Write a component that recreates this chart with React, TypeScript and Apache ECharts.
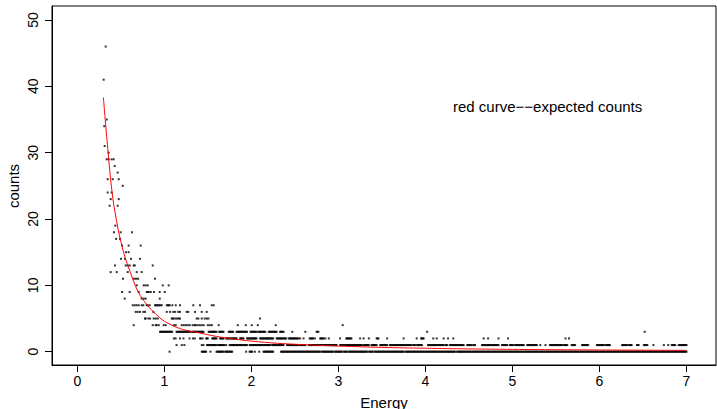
import React, { useEffect, useRef } from "react";
import * as echarts from "echarts";

const FONT = "'Liberation Sans', Arial, Helvetica, sans-serif";

const energyTicks = [0, 1, 2, 3, 4, 5, 6, 7];
const countTicks = [0, 10, 20, 30, 40, 50];

// isolated observations: [count, energies]
const sparsePoints: Array<[number, number[]]> = [
  [46, [0.326]],
  [41, [0.303]],
  [35, [0.338]],
  [34, [0.31]],
  [31, [0.315]],
  [30, [0.36]],
  [29, [0.338, 0.361, 0.395, 0.418]],
  [28, [0.43]],
  [27, [0.464]],
  [26, [0.349, 0.407, 0.476]],
  [25, [0.522]],
  [24, [0.349, 0.395]],
  [23, [0.384, 0.476]],
  [22, [0.372, 0.464]],
  [19, [0.437]],
  [18, [0.421, 0.498, 0.628]],
  [17, [0.446, 0.491]],
  [16, [0.514, 0.59, 0.729]],
  [15, [0.56, 0.59]],
  [14, [0.502, 0.548, 0.617, 0.721]],
  [13, [0.433, 0.556, 0.579, 0.602, 0.648, 0.66, 0.867]],
  [12, [0.384, 0.453, 0.579, 0.683, 0.74]],
  [11, [0.525, 0.652, 0.675, 0.698, 0.893]],
  [10, [0.683, 0.763, 0.786, 0.809, 0.982, 1.05]],
  [9, [0.514, 0.602, 0.706, 0.798, 0.809, 0.821, 0.844, 0.882, 0.947, 1.005]],
  [8, [0.545, 0.74, 0.763, 0.786, 0.947]],
  [7, [0.637, 0.66, 0.683, 0.706, 0.74, 0.759, 0.798, 0.809, 0.832, 0.893, 0.905, 0.917, 0.93, 0.942, 0.955, 0.97, 1.028, 1.04, 1.051, 1.062, 1.092, 1.131, 1.18, 1.333, 1.41, 1.545, 1.568]],
  [6, [0.671, 0.694, 0.72, 0.759, 0.778, 0.874, 1.028, 1.066, 1.103, 1.124, 1.16, 1.18, 1.257, 1.275, 1.353, 1.43, 1.487]],
  [5, [0.778, 0.786, 0.816, 0.836, 0.878, 0.901, 0.924, 1.085, 1.097, 1.108, 1.131, 1.15, 1.166, 1.18, 1.372, 1.391, 1.43, 1.464, 1.487, 1.506, 2.1]],
  [4, [0.648, 0.867, 0.901, 0.913, 0.936, 0.993, 1.016, 1.108, 1.131, 1.2, 1.223, 1.246, 1.269, 1.292, 1.326, 1.349, 1.36, 1.383, 1.406, 1.429, 1.452, 1.499, 1.522, 1.545, 1.625, 1.844, 1.936, 2.005, 2.074, 2.28, 3.05]],
];

// dense rows read as energy runs (observations every 0.01 within each run)
const count3Runs = [[0.95, 1.09], [1.14, 1.3], [1.32, 1.45], [1.51, 1.6], [1.63, 1.68], [1.74, 1.79], [1.83, 1.95], [1.99, 2.06], [2.08, 2.16], [2.2, 2.29], [2.33, 2.37], [2.47, 2.47], [2.62, 2.62], [2.75, 2.77], [4.02, 4.02], [6.52, 6.52]];
const count2Runs = [[1.11, 1.11], [1.13, 1.13], [1.18, 1.18], [1.22, 1.22], [1.29, 1.29], [1.33, 1.33], [1.35, 1.35], [1.41, 1.42], [1.44, 1.44], [1.48, 1.5], [1.55, 1.6], [1.64, 1.68], [1.71, 1.83], [1.87, 1.91], [1.95, 2.06], [2.1, 2.25], [2.29, 2.4], [2.43, 2.54], [2.56, 2.56], [2.6, 2.6], [2.67, 2.71], [2.73, 2.73], [2.79, 2.83], [2.85, 2.85], [2.89, 2.89], [3.02, 3.02], [3.09, 3.15], [3.25, 3.25], [3.29, 3.29], [3.35, 3.35], [3.44, 3.46], [3.56, 3.56], [3.75, 3.75], [3.9, 3.9], [3.95, 3.98], [4.09, 4.09], [4.13, 4.13], [4.21, 4.21], [4.26, 4.26], [4.32, 4.32], [4.67, 4.67], [4.72, 4.72], [4.84, 4.84], [4.95, 4.95], [5.61, 5.61], [5.65, 5.65]];
const count1Runs = [[1.14, 1.14], [1.2, 1.2], [1.23, 1.23], [1.43, 1.43], [1.45, 1.45], [1.49, 1.6], [1.62, 1.69], [1.71, 1.71], [1.75, 1.95], [1.98, 2.22], [2.24, 2.37], [2.41, 2.54], [2.56, 2.62], [2.66, 2.98], [3.02, 3.27], [3.29, 3.35], [3.38, 3.44], [3.48, 3.56], [3.59, 3.84], [3.86, 3.88], [3.9, 3.96], [4.03, 4.21], [4.23, 4.25], [4.28, 4.44], [4.48, 4.53], [4.55, 4.57], [4.65, 4.84], [4.88, 4.94], [4.97, 5.01], [5.03, 5.13], [5.17, 5.28], [5.32, 5.32], [5.38, 5.38], [5.43, 5.57], [5.59, 5.63], [5.68, 5.72], [5.8, 5.87], [5.97, 6.05], [6.07, 6.12], [6.26, 6.32], [6.34, 6.37], [6.43, 6.45], [6.51, 6.55], [6.62, 6.62], [6.74, 6.74], [6.79, 6.79], [6.83, 6.87], [6.91, 7.0]];
const count0Runs = [[1.06, 1.06], [1.43, 1.48], [1.53, 1.53], [1.6, 1.68], [1.7, 1.78], [1.94, 1.94], [1.98, 2.01], [2.04, 2.04], [2.09, 2.09], [2.14, 2.25], [2.34, 2.54], [2.55, 2.79], [2.81, 2.94], [2.96, 3.04], [3.06, 3.1], [3.12, 3.33], [3.35, 3.4], [3.42, 3.44], [3.45, 3.75], [3.77, 4.34], [4.36, 7.0]];

// expected counts (red curve)
const curveEnergy = [0.3, 0.35, 0.4, 0.45, 0.5, 0.55, 0.6, 0.7, 0.8, 0.9, 1.0, 1.2, 1.4, 1.6, 1.8, 2.0, 2.3, 2.7, 3.0, 3.5, 4.0, 4.5, 5.0, 5.5, 6.0, 6.5, 7.0];
const curveCounts = [38.3, 30.6, 24.0, 19.8, 16.6, 14.2, 12.3, 9.0, 7.1, 5.7, 4.6, 3.4, 2.85, 2.3, 1.9, 1.6, 1.27, 1.0, 0.85, 0.65, 0.52, 0.42, 0.35, 0.3, 0.26, 0.23, 0.2];

function buildPoints(): number[][] {
  const pts: number[][] = [];
  sparsePoints.forEach(([c, es]) => es.forEach((e) => pts.push([e, c])));
  const runSets: Array<[number, number[][]]> = [
    [3, count3Runs],
    [2, count2Runs],
    [1, count1Runs],
    [0, count0Runs],
  ];
  runSets.forEach(([c, runs]) => {
    runs.forEach(([a, b]) => {
      const n = Math.round((b - a) / 0.01);
      for (let i = 0; i <= n; i++) pts.push([+(a + i * 0.01).toFixed(3), c]);
    });
  });
  return pts;
}

export default function App() {
  const ref = useRef<HTMLDivElement>(null);
  useEffect(() => {
    if (!ref.current) return;
    const chart = echarts.init(ref.current, null, { renderer: "svg" });
    const option: any = {
      animation: false,
      backgroundColor: "#fff",
      grid: {
        left: 52,
        top: 6,
        right: 1,
        bottom: 44,
        show: true,
        borderColor: "#000",
        borderWidth: 1,
        backgroundColor: "transparent",
      },
      xAxis: {
        type: "value",
        min: -0.2907,
        max: 7.339,
        axisLine: { show: true, onZero: false, lineStyle: { color: "#000", width: 1 } },
        axisTick: { show: true, length: 7, lineStyle: { color: "#000" }, customValues: energyTicks },
        axisLabel: { customValues: energyTicks, color: "#000", fontSize: 14, fontFamily: FONT, margin: 9 },
        splitLine: { show: false },
      },
      yAxis: {
        type: "value",
        min: -2.005,
        max: 52.11,
        axisLine: { show: true, onZero: false, lineStyle: { color: "#000", width: 1 } },
        axisTick: { show: true, length: 7, lineStyle: { color: "#000" }, customValues: countTicks },
        axisLabel: { customValues: countTicks, color: "#000", fontSize: 14, fontFamily: FONT, margin: 12, rotate: 90 },
        splitLine: { show: false },
      },
      series: [
        {
          type: "scatter",
          data: buildPoints(),
          symbol: "rect",
          symbolSize: 2,
          itemStyle: { color: "#000" },
          silent: true,
          z: 2,
        },
        {
          type: "line",
          data: curveEnergy.map((e, i) => [e, curveCounts[i]]),
          showSymbol: false,
          smooth: 0.4,
          lineStyle: { color: "#ff0000", width: 1 },
          silent: true,
          z: 3,
        },
      ],
      graphic: [
        {
          type: "text",
          x: 453,
          y: 106,
          style: { text: "red curve\u2212\u2212expected counts", fill: "#000", fontSize: 15, fontFamily: FONT, textAlign: "left", textVerticalAlign: "middle" },
        },
        {
          type: "text",
          x: 384,
          y: 402,
          style: { text: "Energy", fill: "#000", fontSize: 15, fontFamily: FONT, textAlign: "center", textVerticalAlign: "middle" },
        },
        {
          type: "text",
          x: 13,
          y: 186,
          rotation: Math.PI / 2,
          style: { text: "counts", fill: "#000", fontSize: 15, fontFamily: FONT, textAlign: "center", textVerticalAlign: "middle" },
        },
      ],
    };
    chart.setOption(option);
    return () => chart.dispose();
  }, []);
  return <div ref={ref} style={{ position: "absolute", left: 0, top: 0, width: 717, height: 409 }} />;
}
